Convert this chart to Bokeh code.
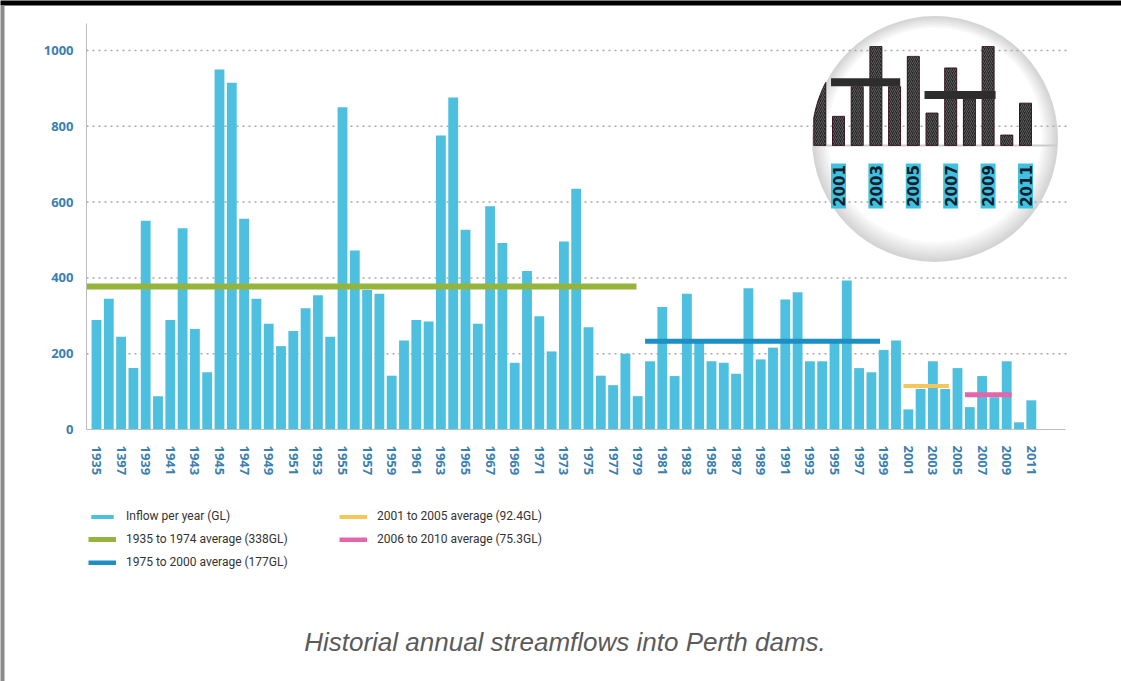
import math
from bokeh.plotting import figure
from bokeh.models import (FixedTicker, Range1d, Legend, LegendItem, Label,
                          BoxAnnotation)
from bokeh.embed import file_html
from bokeh.resources import INLINE
from bokeh.core.properties import value

# ---------------- data ----------------
years = list(range(1935, 2012))
inflow = [289, 345, 245, 162, 551, 88, 289, 531, 265, 151,
          950, 915, 556, 345, 279, 220, 260, 320, 354, 245,
          850, 472, 368, 358, 142, 235, 289, 285, 776, 876,
          527, 279, 589, 492, 176, 418, 299, 206, 496, 635,
          270, 142, 117, 200, 88, 180, 323, 141, 358, 230,
          180, 176, 147, 373, 185, 216, 343, 362, 180, 180,
          228, 393, 162, 151, 210, 235, 53, 107, 180, 107,
          162, 59, 141, 85, 180, 19, 77]

avg_labels = ["1935 to 1974 average (338GL)", "1975 to 2000 average (177GL)",
              "2001 to 2005 average (92.4GL)", "2006 to 2010 average (75.3GL)"]
avg_level = [377, 233, 115, 92]
avg_start = [1934.2, 1979.6, 2000.6, 2005.6]
avg_end = [1978.9, 1998.7, 2004.3, 2009.4]

bar_label = "Inflow per year (GL)"
y_ticks = [0, 200, 400, 600, 800, 1000]
x_tick_years = list(range(1935, 2012, 2))
x_tick_labels = ["1935", "1397", "1939", "1941", "1943", "1945", "1947", "1949",
                 "1951", "1953", "1955", "1957", "1959", "1961", "1963", "1965",
                 "1967", "1969", "1971", "1973", "1975", "1977", "1979", "1981",
                 "1983", "1985", "1987", "1989", "1991", "1993", "1995", "1997",
                 "1999", "2001", "2003", "2005", "2007", "2009", "2011"]

inset_first = 2000          # first year seen (partly) inside the magnifier
inset_label_years = [2001, 2003, 2005, 2007, 2009, 2011]
inset_labels = ["2001", "2003", "2005", "2007", "2009", "2011"]

caption = "Historial annual streamflows into Perth dams."

# ---------------- layout geometry (the frame is the whole page) ----------------
W, H = 1121, 681
AX_L, AX_R, AX_T, AX_B = 86, 1065, 23, 429   # axis box in page pixels
X0_PX, DX_PX = 96, 12.3                      # centre of first year, px per year
PX_PER_GL = 0.379

x_start = years[0] - X0_PX / DX_PX
x_end = x_start + W / DX_PX
y_start = -(H - AX_B) / PX_PER_GL
y_end = AX_B / PX_PER_GL


def px_x(px):
    return x_start + px / DX_PX


def px_y(py):
    return (AX_B - py) / PX_PER_GL


# inset (magnifier) coordinate system: year 2001 at px 838, baseline at px 145
Z_REF_YEAR, Z0_PX, ZDX_PX = 2001, 838, 18.7
ZBASE_PX, ZPX_PER_GL = 145, 0.55
zx_start = Z_REF_YEAR - Z0_PX / ZDX_PX
zx_end = Z_REF_YEAR + (W - Z0_PX) / ZDX_PX
zy_start = -(H - ZBASE_PX) / ZPX_PER_GL
zy_end = ZBASE_PX / ZPX_PER_GL


def zx_to_px(x):
    return Z0_PX + (x - Z_REF_YEAR) * ZDX_PX


def zpx_x(px):
    return Z_REF_YEAR + (px - Z0_PX) / ZDX_PX


def zpx_y(py):
    return (ZBASE_PX - py) / ZPX_PER_GL


p = figure(width=W, height=H,
           x_range=Range1d(x_start, x_end), y_range=Range1d(y_start, y_end),
           output_backend="svg", toolbar_location=None, min_border=0)
p.extra_x_ranges = {"zx": Range1d(zx_start, zx_end)}
p.extra_y_ranges = {"zy": Range1d(zy_start, zy_end)}
p.outline_line_color = None
p.background_fill_color = "white"
p.border_fill_color = "white"

# ---------------- magnifier lens (decoration) ----------------
lens_cx, lens_cy, lens_r = 934.5, 138.5, 123
rim_steps = 9
for i in range(rim_steps):
    t = i / (rim_steps - 1)
    g = int(212 + (255 - 212) * t)
    d = 2 * lens_r - 4 * i
    p.scatter(x=[px_x(lens_cx)], y=[px_y(lens_cy - 0.5 * i)], size=d,
              marker="circle", fill_color="#%02x%02x%02x" % (g, g, g),
              line_color=None, level="image")

# ---------------- grid lines (dotted, limited to the axis box) ----------------
p.xgrid.visible = False
p.ygrid.visible = False
grid_y = y_ticks[1:]
p.segment(x0=[px_x(AX_L)] * len(grid_y), x1=[px_x(1068)] * len(grid_y),
          y0=grid_y, y1=grid_y, line_color="#a8a8a8", line_dash="2 4",
          line_width=1.5, level="underlay")

# ---------------- main bars ----------------
bars = p.vbar(x=years, top=inflow, width=0.8, fill_color="#4cc0de",
              line_color=None)

avg_colors = ["#94b43c", "#1e8fc4", "#f7c65a", "#e366ad"]
avg_widths = [6, 5, 4, 5]
avg_renderers = []
for s, e, v, c, w in zip(avg_start, avg_end, avg_level, avg_colors, avg_widths):
    r = p.line(x=[s, e], y=[v, v], line_color=c, line_width=w)
    avg_renderers.append(r)

# ---------------- inset content (magnified 2000-2011, clipped to the lens) ----------------
iz = years.index(inset_first)
inset_years = years[iz:]
inset_vals = inflow[iz:]
half_w = 0.32


def lens_clip(yr, val, n=14):
    """Bar outline (in inset coordinates) clipped to the lens circle."""
    left, right = zx_to_px(yr - half_w), zx_to_px(yr + half_w)
    top_px = ZBASE_PX - val * ZPX_PER_GL
    tops, bots = [], []
    for k in range(n + 1):
        xp = left + (right - left) * k / n
        dx = xp - lens_cx
        if abs(dx) >= lens_r:
            continue
        h = math.sqrt(lens_r ** 2 - dx ** 2)
        t = max(top_px, lens_cy - h)
        b = min(ZBASE_PX, lens_cy + h)
        if b <= t:
            continue
        tops.append((zpx_x(xp), zpx_y(t)))
        bots.append((zpx_x(xp), zpx_y(b)))
    pts = tops + bots[::-1]
    return [q[0] for q in pts], [q[1] for q in pts]


xs_list, ys_list = [], []
for yr, v in zip(inset_years, inset_vals):
    xs, ys = lens_clip(yr, v)
    if xs:
        xs_list.append(xs)
        ys_list.append(ys)

p.segment(x0=[zpx_x(lens_cx - lens_r + 1)], x1=[zpx_x(lens_cx + lens_r - 1)],
          y0=[0], y1=[0], line_color="#cccccc", line_width=2,
          x_range_name="zx", y_range_name="zy")
p.patches(xs=xs_list, ys=ys_list, fill_color="#262626",
          line_color="#3a1424", line_width=1, hatch_pattern="right_diagonal_line",
          hatch_color="#5e5e5e", hatch_scale=4, hatch_weight=1,
          x_range_name="zx", y_range_name="zy")
for s, e, v in zip(avg_start[2:], avg_end[2:], avg_level[2:]):
    p.line(x=[s, e], y=[v, v], line_color="#2d2d2d", line_width=8,
           x_range_name="zx", y_range_name="zy")
p.rect(x=inset_label_years, y=[zpx_y(185.5)] * len(inset_label_years),
       width=15, height=45, width_units="screen", height_units="screen",
       fill_color="#3fc1df", line_color=None,
       x_range_name="zx", y_range_name="zy")
p.text(x=inset_label_years, y=[zpx_y(185.5)] * len(inset_label_years),
       text=inset_labels, angle=math.pi / 2, text_align="center",
       text_baseline="middle", text_font=value("DejaVu Sans"),
       text_font_style="bold", text_font_size="15px", text_color="#0f1e2d",
       x_range_name="zx", y_range_name="zy")

# ---------------- axes ----------------
p.yaxis.fixed_location = px_x(AX_L)
p.yaxis.bounds = (0, px_y(AX_T))
p.yaxis.ticker = FixedTicker(ticks=y_ticks)
p.yaxis.axis_line_color = "#bdbdbd"
p.yaxis.major_tick_line_color = None
p.yaxis.minor_tick_line_color = None
p.yaxis.major_label_standoff = 7
p.yaxis.major_label_text_font = "Open Sans"
p.yaxis.major_label_text_font_style = "bold"
p.yaxis.major_label_text_font_size = "13px"
p.yaxis.major_label_text_color = "#3a80b0"

p.xaxis.fixed_location = 0
p.xaxis.bounds = (px_x(AX_L), px_x(AX_R))
p.xaxis.ticker = FixedTicker(ticks=x_tick_years)
p.xaxis.major_label_overrides = {y: l for y, l in zip(x_tick_years, x_tick_labels)}
p.xaxis.major_label_orientation = "vertical"
p.xaxis.axis_line_color = "#bdbdbd"
p.xaxis.major_tick_line_color = None
p.xaxis.minor_tick_line_color = None
p.xaxis.major_label_standoff = 10
p.xaxis.major_label_text_font = "Open Sans"
p.xaxis.major_label_text_font_style = "bold"
p.xaxis.major_label_text_font_size = "13px"
p.xaxis.major_label_text_color = "#3a80b0"

# ---------------- legend ----------------
def make_legend(items, loc):
    return Legend(items=items, location=loc, orientation="vertical",
                  glyph_width=28, glyph_height=5, label_height=20, spacing=3,
                  label_standoff=10, padding=0, margin=0,
                  border_line_color=None, background_fill_alpha=0,
                  label_text_font="Roboto",
                  label_text_font_size="12px", label_text_color="#333333")


leg1 = make_legend([LegendItem(label=bar_label, renderers=[bars]),
                    LegendItem(label=avg_labels[0], renderers=[avg_renderers[0]]),
                    LegendItem(label=avg_labels[1], renderers=[avg_renderers[1]])],
                   (88, H - 572))
leg2 = make_legend([LegendItem(label=avg_labels[2], renderers=[avg_renderers[2]]),
                    LegendItem(label=avg_labels[3], renderers=[avg_renderers[3]])],
                   (339, H - 549))
p.add_layout(leg1, "center")
p.add_layout(leg2, "center")

# ---------------- caption & page frame ----------------
p.add_layout(Label(x=px_x(564.5), y=px_y(641), text=caption,
                   text_align="center", text_baseline="middle",
                   text_font="Liberation Sans", text_font_style="italic",
                   text_font_size="26px", text_color="#5a5a5a"))
p.add_layout(BoxAnnotation(left=px_x(-2), right=px_x(W + 2), top=px_y(-2),
                           bottom=px_y(5), fill_color="black", fill_alpha=1,
                           line_color=None, level="overlay"))
p.add_layout(BoxAnnotation(left=px_x(-2), right=px_x(4), top=px_y(5),
                           bottom=px_y(H + 2), fill_color="#8a8a8a",
                           fill_alpha=1, line_color=None, level="overlay"))

open("out.html", "w").write(file_html(p, INLINE))
